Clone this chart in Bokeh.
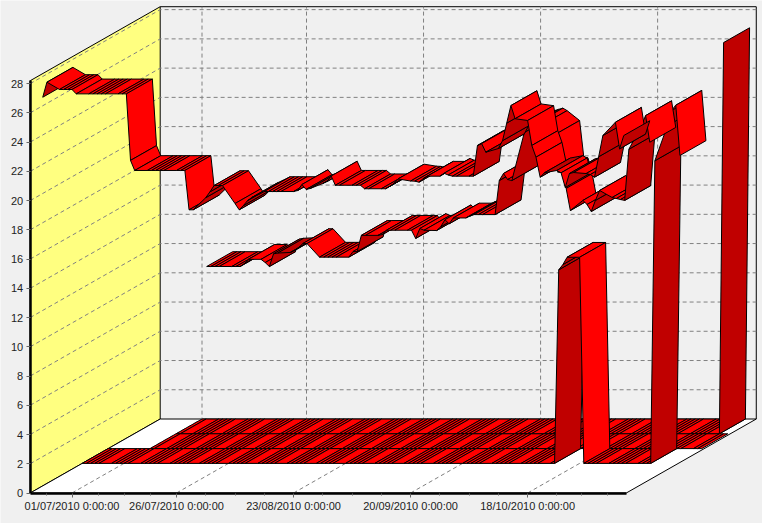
import pandas as pd
from bokeh.models import Range1d, FixedTicker
from bokeh.plotting import figure
from bokeh.embed import file_html
from bokeh.resources import INLINE

# ---- data: one value per business day ----
start_a = "2010-06-24"
series_a = [27.07, 28.1,
    27.6, 27.6, 27.6, 27.6, 27.3,
    27.3, 27.3, 27.3, 27.3, 27.3,
    27.3, 27.3, 27.3, 22.75, 22.06,
    22.06, 22.06, 22.06, 22.06, 22.06,
    22.06, 22.06, 22.06, 19.37, 19.37,
    20.2, 20.6, 21.03, 21.03, 21.03,
    19.8, 19.37, 19.66, 20.0, 20.21,
    20.62, 20.62, 20.62, 20.62, 20.62,
    20.62, 20.69, 21.1, 20.76, 20.83,
    21.17, 21.3, 21.68, 21.05, 21.05,
    21.05, 21.05, 21.05, 20.81, 20.81,
    20.81, 20.81, 20.97, 21.17, 21.48,
    21.34, 21.33, 21.26, 21.5, 21.67,
    21.67, 21.87, 21.75, 21.67, 21.67,
    21.67, 21.67, 23.77, 23.9, 23.31,
    23.56, 24.1, 25.3, 26.5, 25.6,
    25.48, 23.77, 22.97, 21.6, 21.9,
    22.06, 21.9, 20.9, 21.85, 21.92,
    21.85, 21.78, 21.6, 23.0, 24.45,
    25.36, 23.54, 24.45]

start_b = "2010-07-27"
series_b = [14.48, 14.48, 14.48, 14.48,
    14.48, 14.48, 14.48, 14.68, 14.97,
    14.97, 14.75, 14.48, 15.35, 15.4,
    15.44, 15.57, 15.78, 16.05, 16.05,
    15.12, 15.12, 15.12, 15.12, 15.12,
    15.12, 15.5, 15.5, 16.61, 16.61,
    16.61, 16.66, 16.96, 16.96, 16.96,
    16.96, 16.96, 16.4, 17.08, 16.96,
    16.94, 17.2, 17.68, 17.4, 17.8,
    17.8, 17.93, 18.03, 18.03, 18.03,
    18.03, 20.36, 20.84, 20.43, 20.36,
    23.65, 24.13, 24.22, 24.3, 24.13,
    23.45, 20.94, 20.9, 19.82, 18.31,
    19.0, 18.72, 18.24, 19.0, 19.68,
    19.2, 19.13, 19.06, 19.0, 22.5,
    24.1, 24.8, 22.98]

start_c = "2010-06-21"
series_c = [0, 0, 0, 0, 0,
    0, 0, 0, 0, 0,
    0, 0, 0, 0, 0,
    0, 0, 0, 0, 0,
    0, 0, 0, 0, 0,
    0, 0, 0, 0, 0,
    0, 0, 0, 0, 0,
    0, 0, 0, 0, 0,
    0, 0, 0, 0, 0,
    0, 0, 0, 0, 0,
    0, 0, 0, 0, 0,
    0, 0, 0, 0, 0,
    0, 0, 0, 0, 0,
    0, 0, 0, 0, 0,
    0, 0, 0, 0, 0,
    0, 0, 0, 0, 0,
    0, 0, 13.24, 13.6, 14.1,
    14.1, 0, 0, 0, 0,
    0, 0, 0, 0, 0,
    0, 0, 0, 0, 20.7,
    23.1, 24.14, 24.5, 21.06]

start_d = "2010-07-01"
series_d = [0, 0,
    0, 0, 0, 0, 0,
    0, 0, 0, 0, 0,
    0, 0, 0, 0, 0,
    0, 0, 0, 0, 0,
    0, 0, 0, 0, 0,
    0, 0, 0, 0, 0,
    0, 0, 0, 0, 0,
    0, 0, 0, 0, 0,
    0, 0, 0, 0, 0,
    0, 0, 0, 0, 0,
    0, 0, 0, 0, 0,
    0, 0, 0, 0, 0,
    0, 0, 0, 0, 0,
    0, 0, 0, 0, 0,
    0, 0, 0, 0, 0,
    0, 0, 0, 0, 0,
    0, 0, 0, 0, 0,
    0, 0, 0, 0, 0,
    0, 0, 0]

start_e = "2010-07-01"
series_e = [0, 0,
    0, 0, 0, 0, 0,
    0, 0, 0, 0, 0,
    0, 0, 0, 0, 0,
    0, 0, 0, 0, 0,
    0, 0, 0, 0, 0,
    0, 0, 0, 0, 0,
    0, 0, 0, 0, 0,
    0, 0, 0, 0, 0,
    0, 0, 0, 0, 0,
    0, 0, 0, 0, 0,
    0, 0, 0, 0, 0,
    0, 0, 0, 0, 0,
    0, 0, 0, 0, 0,
    0, 0, 0, 0, 0,
    0, 0, 0, 0, 0,
    0, 0, 0, 0, 0,
    0, 0, 0, 0, 0,
    0, 0, 0, 0, 0,
    0, 26.76]

tick_dates = ["2010-07-01", "2010-07-26", "2010-08-23", "2010-09-20", "2010-10-18"]
tick_labels = ["01/07/2010 0:00:00", "26/07/2010 0:00:00", "23/08/2010 0:00:00",
               "20/09/2010 0:00:00", "18/10/2010 0:00:00"]
minor_days = [-6, 6.25, 12.5, 18.75, 32, 39, 46, 60, 67, 74, 88, 95, 102, 116, 122, 128]
value_ticks = list(range(0, 29, 2))

# ---- layout of the oblique projection ----
W, H = 762, 523
PX_PER_DAY, PX_PER_UNIT = 4.18, 14.62
X0_PX, Y0_PX = 71.5, 492.5
DEPTH_DAYS = 130 / PX_PER_DAY
DEPTH_UNITS = 74 / PX_PER_UNIT
BANDS = 5
AX_MIN, AX_MAX, V_MAX = -10, 132.6, 28.2
RED, DARK, GRID = "#FF0000", "#C00000", "#808080"
BG = "#F0F0F0"
ORIGIN = pd.Timestamp("2010-07-01")


def day(s):
    return (pd.Timestamp(s) - ORIGIN).days


p = figure(width=W, height=H, output_backend="svg", toolbar_location=None,
           x_range=Range1d(-X0_PX / PX_PER_DAY, (W - X0_PX) / PX_PER_DAY),
           y_range=Range1d((Y0_PX - H) / PX_PER_UNIT, Y0_PX / PX_PER_UNIT),
           min_border=0, min_border_left=0, min_border_right=0,
           min_border_top=0, min_border_bottom=0,
           background_fill_color=BG, border_fill_color=BG, outline_line_color=None)
p.grid.visible = False

# walls
dd, dv = DEPTH_DAYS, DEPTH_UNITS
p.patch([AX_MIN, AX_MIN, AX_MIN + dd, AX_MIN + dd], [0, V_MAX, V_MAX + dv, dv],
        fill_color="#FFFF80", line_color="black", line_width=1)
p.patch([AX_MIN, AX_MAX, AX_MAX + dd, AX_MIN + dd], [0, 0, dv, dv],
        fill_color="white", line_color="black", line_width=1)
p.line([AX_MIN + dd, AX_MAX + dd, AX_MAX + dd], [V_MAX + dv, V_MAX + dv, dv],
       line_color="black", line_width=1)

# grid
tick_days = [day(t) for t in tick_dates]
grid_v = value_ticks[1:]
p.multi_line([[AX_MIN, AX_MIN + dd, AX_MAX + dd] for _ in grid_v],
             [[v, v + dv, v + dv] for v in grid_v],
             line_color=GRID, line_dash="4 3", line_width=1)
p.multi_line([[t, t + dd, t + dd] for t in tick_days],
             [[0, dv, V_MAX + dv] for _ in tick_days],
             line_color=GRID, line_dash="4 3", line_width=1)

# ribbons, back to front
ribbons = [(4, start_e, series_e), (3, start_d, series_d), (2, start_c, series_c),
           (1, start_b, series_b), (0, start_a, series_a)]
for band, start, vals in ribbons:
    dates = pd.bdate_range(start, periods=len(vals))
    days = [(t - ORIGIN).days for t in dates]
    bx, by = dd / BANDS * band, dv / BANDS * band
    nx, ny = dd / BANDS, dv / BANDS
    xs, ys, colors = [], [], []
    for i in range(len(vals) - 1):
        x1, x2, v1, v2 = days[i], days[i + 1], vals[i], vals[i + 1]
        xs.append([x1 + bx, x2 + bx, x2 + bx + nx, x1 + bx + nx])
        ys.append([v1 + by, v2 + by, v2 + by + ny, v1 + by + ny])
        colors.append(DARK if v2 > v1 else RED)
    p.patches(xs, ys, fill_color=colors, line_color="black", line_width=1)

# axes
xa = p.xaxis[0]
xa.fixed_location = 0
xa.bounds = (AX_MIN, AX_MAX)
xa.ticker = FixedTicker(ticks=tick_days, minor_ticks=minor_days)
xa.major_label_overrides = dict(zip(tick_days, tick_labels))
xa.axis_line_width = 2.5
xa.axis_line_color = "black"
xa.major_tick_in, xa.major_tick_out = 0, 4
xa.minor_tick_in, xa.minor_tick_out = 0, 2
xa.major_tick_line_color = "#666666"
xa.minor_tick_line_color = "#666666"
xa.major_label_standoff = 3
xa.major_label_text_font = "Liberation Sans"
xa.major_label_text_font_size = "11px"
xa.major_label_text_color = "#222222"

ya = p.yaxis[0]
ya.fixed_location = AX_MIN
ya.bounds = (0, V_MAX)
ya.ticker = FixedTicker(ticks=value_ticks)
ya.axis_line_width = 2.5
ya.axis_line_color = "black"
ya.major_tick_in, ya.major_tick_out = 0, 4
ya.minor_tick_in, ya.minor_tick_out = 0, 0
ya.major_tick_line_color = "#666666"
ya.major_label_standoff = 3
ya.major_label_text_font = "Liberation Sans"
ya.major_label_text_font_size = "11px"
ya.major_label_text_color = "#222222"

open("out.html", "w").write(file_html(p, INLINE))
